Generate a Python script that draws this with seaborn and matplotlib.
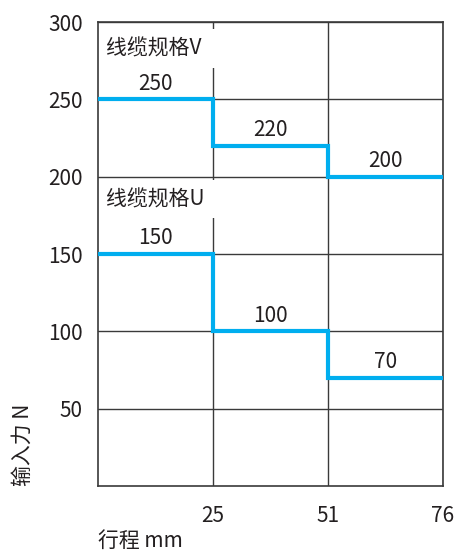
import matplotlib
matplotlib.use("Agg")
import matplotlib.pyplot as plt
import seaborn as sns

# 行程 (mm) 区段与输入力 (N)
stroke_labels = ["25", "51", "76"]
stroke_pos = [0, 1, 2, 3]
force_v = [250, 220, 200, 200]
force_u = [150, 100, 70, 70]
y_ticks = [50, 100, 150, 200, 250, 300]

BLUE = "#00AEEF"
INK = "#231F20"
GRID = "#3a3a3a"

sns.set_theme(style="white")
plt.rcParams["font.family"] = ["Noto Sans CJK SC", "DejaVu Sans"]

fig = plt.figure(figsize=(4.59, 5.51), dpi=100)
ax = fig.add_axes([0.2135, 0.118, 0.7515, 0.842])

for vals in (force_v, force_u):
    sns.lineplot(x=stroke_pos, y=vals, drawstyle="steps-post", color=BLUE,
                 linewidth=3, ax=ax, zorder=3, solid_capstyle="butt",
                 solid_joinstyle="miter")
    for i in range(3):
        ax.text(i + 0.5, vals[i] + 3, str(vals[i]), ha="center", va="bottom",
                fontsize=15, color=INK, zorder=4)

ax.set_xlim(0, 3)
ax.set_ylim(0, 300)
ax.set_xticks([1, 2, 3])
ax.set_xticklabels(stroke_labels)
ax.set_yticks(y_ticks)
ax.tick_params(length=0, labelsize=15, colors=INK)
ax.tick_params(axis="x", pad=14)
ax.tick_params(axis="y", pad=11)

ax.set_axisbelow(True)
ax.grid(True, color=GRID, linewidth=1)
for s in ax.spines.values():
    s.set_color(GRID)
    s.set_linewidth(1.2)

# 标签后加空格, 让白底盖住 25 处的竖线
box = dict(boxstyle="square,pad=0.4", facecolor="white", edgecolor="none")
ax.text(0.07, 283, "线缆规格V  ", ha="left", va="center", fontsize=15,
        color=INK, bbox=box, zorder=1)
ax.text(0.07, 185.5, "线缆规格U  ", ha="left", va="center", fontsize=15,
        color=INK, bbox=box, zorder=1)

ax.set_xlabel("行程 mm", loc="left", fontsize=15, color=INK, labelpad=2)
ax.set_ylabel("输入力 N", loc="bottom", fontsize=15, color=INK, labelpad=10)

fig.savefig("out.png", dpi=100)
